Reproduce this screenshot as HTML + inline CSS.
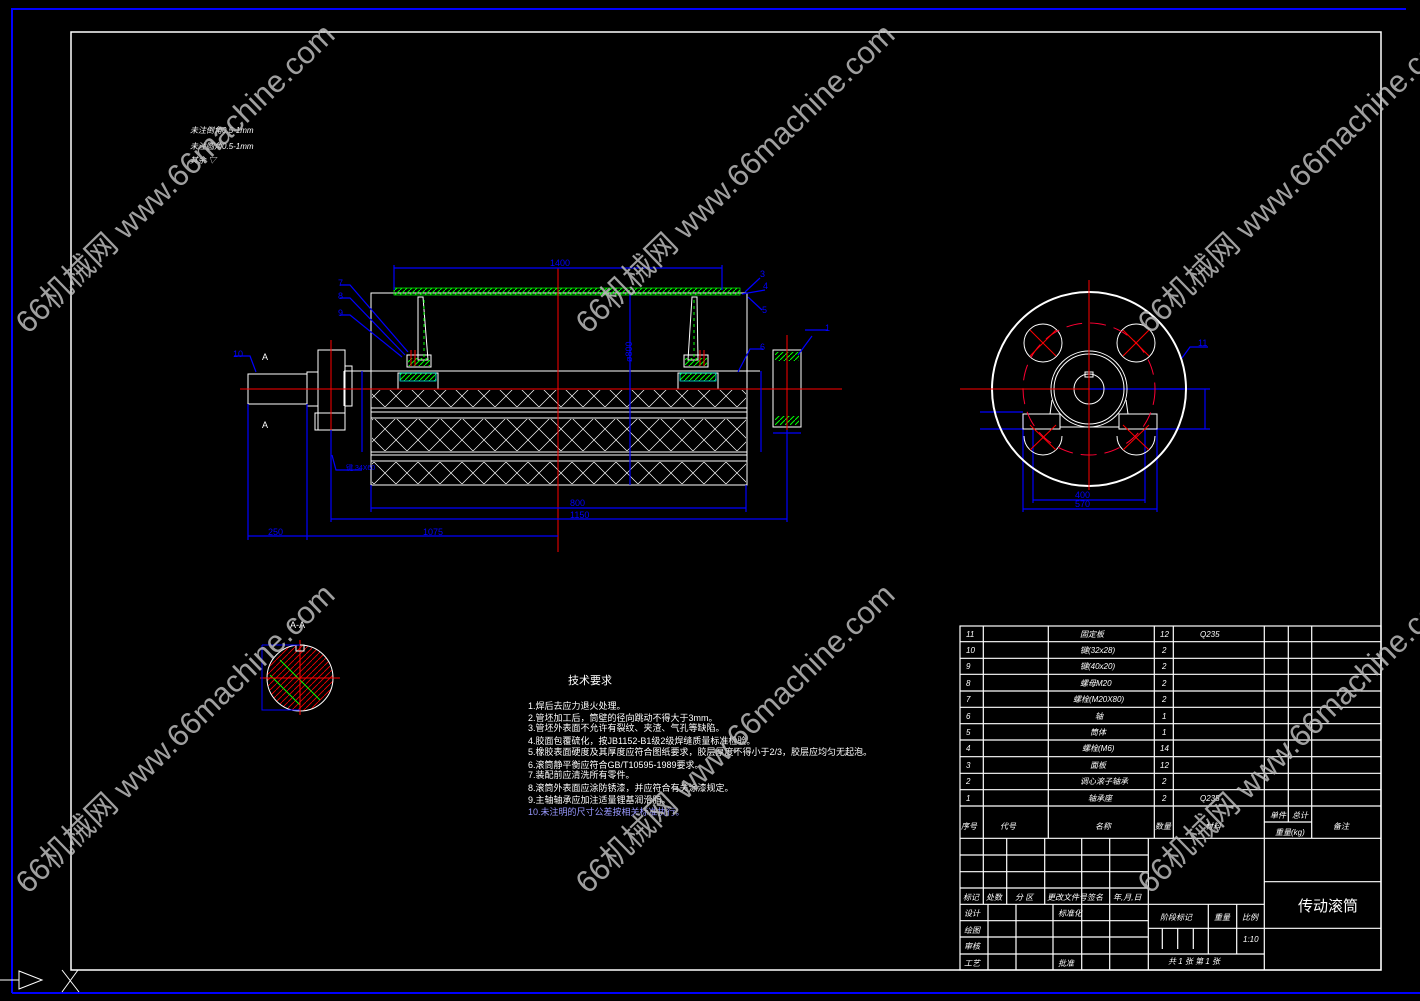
<!DOCTYPE html>
<html><head><meta charset="utf-8"><style>
html,body{margin:0;padding:0;background:#000;}
svg{display:block}
text{font-family:"Liberation Sans","Noto Sans CJK SC",sans-serif;}
</style></head><body>
<svg width="1420" height="1001" viewBox="0 0 1420 1001" xmlns="http://www.w3.org/2000/svg">
<rect width="1420" height="1001" fill="#000"/>
<!-- frames -->
<polyline points="12,993 12,9 1406,9" fill="none" stroke="#0000ff" stroke-width="2"/>
<line x1="12" y1="993" x2="1420" y2="993" stroke="#0000ff" stroke-width="2"/>
<rect x="71" y="32" width="1310" height="938" fill="none" stroke="#fff" stroke-width="1.5"/>
<polygon points="19,971 42,980 19,989" fill="none" stroke="#fff"/>
<line x1="0" y1="980" x2="19" y2="980" stroke="#fff"/>
<path d="M62 970 L79 992 M78 970 L62 992" stroke="#fff"/>

<!-- main view -->
<g fill="none" stroke="#fff" stroke-width="1">
<rect x="371" y="293" width="376" height="192"/>
<rect x="371" y="389" width="376" height="96"/>
<line x1="371" y1="408" x2="747" y2="408"/><line x1="371" y1="412" x2="747" y2="412"/><line x1="371" y1="418" x2="747" y2="418"/>
<line x1="371" y1="452" x2="747" y2="452"/><line x1="371" y1="455" x2="747" y2="455"/><line x1="371" y1="461" x2="747" y2="461"/>
<line x1="344" y1="371" x2="760" y2="371"/>
<line x1="344" y1="371" x2="344" y2="406"/>
<rect x="248" y="374" width="59" height="30"/>
<rect x="307" y="372" width="11" height="34"/>
<rect x="318" y="350" width="27" height="80"/>
<rect x="345" y="366" width="7" height="40"/>
<rect x="315" y="413" width="30" height="17"/>
<rect x="773" y="350" width="28" height="77"/>
<rect x="398" y="373" width="40" height="16"/><rect x="678" y="373" width="40" height="16"/>
<polygon points="418,297 423,297 428,360 418,360"/>
<polygon points="697,297 692,297 688,360 698,360"/>
<rect x="407" y="355" width="24" height="12"/><rect x="684" y="355" width="24" height="12"/>
</g>
<!-- cross hatch pattern -->
<defs>
<pattern id="xh" width="22" height="22" patternUnits="userSpaceOnUse">
<path d="M0 0 L22 22 M22 0 L0 22" stroke="#fff" stroke-width="0.7"/>
</pattern>
<pattern id="gh" width="5" height="5" patternUnits="userSpaceOnUse">
<path d="M0 5 L5 0" stroke="#0f0" stroke-width="1"/>
</pattern>
<pattern id="rh" width="6" height="6" patternUnits="userSpaceOnUse">
<path d="M0 6 L6 0" stroke="#f00" stroke-width="0.8"/>
</pattern>
</defs>
<rect x="372" y="390" width="374" height="17" fill="url(#xh)"/>
<rect x="372" y="419" width="374" height="32" fill="url(#xh)"/>
<rect x="372" y="462" width="374" height="22" fill="url(#xh)"/>
<rect x="394" y="288" width="346" height="7" fill="url(#gh)" stroke="#0f0" stroke-width="0.7"/>
<rect x="400" y="373" width="36" height="8" fill="url(#gh)" stroke="#0ff" stroke-width="0.7"/>
<rect x="680" y="373" width="36" height="8" fill="url(#gh)" stroke="#0ff" stroke-width="0.7"/>
<rect x="408" y="358" width="22" height="8" fill="url(#gh)"/>
<rect x="685" y="358" width="22" height="8" fill="url(#gh)"/>
<rect x="775" y="352" width="24" height="9" fill="url(#gh)"/>
<rect x="775" y="416" width="24" height="9" fill="url(#gh)"/>
<line x1="424" y1="300" x2="424" y2="360" stroke="#0f0" stroke-dasharray="3,3"/>
<line x1="694" y1="300" x2="694" y2="360" stroke="#0f0" stroke-dasharray="3,3"/>
<!-- red center lines -->
<g stroke="#f00" stroke-width="1">
<line x1="240" y1="389" x2="842" y2="389"/>
<line x1="558" y1="268" x2="558" y2="552"/>
<line x1="331" y1="340" x2="331" y2="440"/>
<line x1="787" y1="335" x2="787" y2="440"/>
<line x1="411" y1="350" x2="411" y2="366"/><line x1="415" y1="350" x2="415" y2="366"/>
<line x1="700" y1="350" x2="700" y2="366"/><line x1="704" y1="350" x2="704" y2="366"/>
</g>
<!-- blue dims -->
<g stroke="#0000ff" stroke-width="1.2" fill="none">
<line x1="394" y1="268" x2="722" y2="268"/><line x1="394" y1="265" x2="394" y2="290"/><line x1="722" y1="265" x2="722" y2="290"/>
<line x1="630" y1="293" x2="630" y2="485"/>
<line x1="371" y1="508" x2="746" y2="508"/><line x1="371" y1="485" x2="371" y2="512"/><line x1="746" y1="485" x2="746" y2="512"/>
<line x1="331" y1="519" x2="787" y2="519"/><line x1="331" y1="430" x2="331" y2="522"/><line x1="787" y1="430" x2="787" y2="522"/>
<line x1="248" y1="536" x2="558" y2="536"/><line x1="248" y1="404" x2="248" y2="540"/><line x1="307" y1="404" x2="307" y2="540"/>
<line x1="362" y1="371" x2="362" y2="452"/><line x1="761" y1="371" x2="761" y2="452"/>
<line x1="773" y1="433" x2="801" y2="433"/>
<polyline points="340,285 350,285 408,352"/>
<polyline points="340,298 350,298 405,355"/>
<polyline points="340,315 350,315 402,357"/>
<polyline points="234,356 250,356 256,372"/>
<polyline points="760,278 745,292"/><polyline points="765,290 742,294"/><polyline points="762,310 748,297"/>
<polyline points="805,330 828,330"/><polyline points="812,336 798,355"/>
<polyline points="763,349 750,349 738,372"/>
<polyline points="332,455 336,470 362,470"/>
<polyline points="1208,347 1190,347 1182,358"/>
<line x1="1160" y1="389" x2="1183" y2="389"/>
<line x1="1033" y1="500" x2="1145" y2="500"/><line x1="1023" y1="509" x2="1157" y2="509"/>
<line x1="1023" y1="414" x2="1023" y2="512"/><line x1="1157" y1="429" x2="1157" y2="512"/>
<line x1="1033" y1="430" x2="1033" y2="503"/><line x1="1145" y1="430" x2="1145" y2="503"/>
<line x1="1089" y1="389" x2="1210" y2="389"/><line x1="1148" y1="429" x2="1210" y2="429"/>
<line x1="1205" y1="389" x2="1205" y2="429"/>
<line x1="980" y1="412" x2="1023" y2="412"/><line x1="980" y1="429" x2="1023" y2="429"/>
</g>
<g fill="#0000ff" font-size="9">
<text x="550" y="266">1400</text><text x="622" y="360" transform="rotate(-90 628 356)">ø800</text>
<text x="570" y="506">800</text><text x="570" y="518">1150</text>
<text x="268" y="535">250</text><text x="423" y="535">1075</text>
<text x="233" y="357">10</text><text x="338" y="286">7</text><text x="338" y="299">8</text><text x="338" y="316">9</text>
<text x="760" y="277">3</text><text x="763" y="289">4</text><text x="762" y="313">5</text>
<text x="825" y="331">1</text><text x="760" y="350">6</text><text x="1198" y="346">11</text>
<text x="1075" y="498">400</text><text x="1075" y="507">570</text>
<text x="346" y="470" font-size="7">键 34X60</text>
</g>
<g fill="#fff" font-size="9"><text x="262" y="360">A</text><text x="262" y="428">A</text></g>
<!-- side view -->
<g fill="none" stroke="#fff">
<circle cx="1089" cy="389" r="97" stroke-width="2"/>
<circle cx="1089" cy="389" r="38"/><circle cx="1089" cy="389" r="35"/>
<circle cx="1089" cy="389" r="15"/>
<rect x="1085" y="372" width="8" height="5"/>
<circle cx="1043" cy="343" r="19"/><circle cx="1136" cy="343" r="19"/>
<path d="M1024 436 A19 19 0 0 0 1062 436"/><path d="M1117 436 A19 19 0 0 0 1155 436"/>
<rect x="1023" y="414" width="37" height="15"/><rect x="1119" y="414" width="38" height="15"/>
<line x1="1060" y1="427" x2="1119" y2="427"/>
<line x1="1052" y1="400" x2="1050" y2="414"/><line x1="1126" y1="400" x2="1128" y2="414"/>
</g>
<circle cx="1089" cy="389" r="66" fill="none" stroke="#f03" stroke-dasharray="16,8"/>
<g stroke="#f00"><line x1="1089" y1="280" x2="1089" y2="490"/><line x1="960" y1="389" x2="1089" y2="389"/>
<line x1="1030" y1="330" x2="1056" y2="356"/><line x1="1056" y1="330" x2="1030" y2="356"/>
<line x1="1123" y1="330" x2="1149" y2="356"/><line x1="1149" y1="330" x2="1123" y2="356"/>
<line x1="1030" y1="425" x2="1056" y2="450"/><line x1="1056" y1="425" x2="1030" y2="450"/>
<line x1="1123" y1="425" x2="1149" y2="450"/><line x1="1149" y1="425" x2="1123" y2="450"/></g>
<!-- section A-A -->
<circle cx="300" cy="678" r="33" fill="url(#rh)" stroke="#fff"/>
<path d="M280 660 L320 700 M270 675 L300 705" stroke="#0f0"/>
<line x1="260" y1="678" x2="340" y2="678" stroke="#f00"/><line x1="300" y1="640" x2="300" y2="715" stroke="#f00"/>
<rect x="296" y="645" width="8" height="6" fill="none" stroke="#fff"/>
<path d="M262 645 L262 710 L300 710 M262 645 L300 645" fill="none" stroke="#0000ff"/>
<text x="290" y="628" fill="#fff" font-size="9">A-A</text>
<!-- roughness notes -->
<g fill="#fff" font-size="8" font-style="italic">
<text x="190" y="133">未注倒角0.5-1mm</text><text x="190" y="149">未注圆角0.5-1mm</text><text x="190" y="163">其余 ▽</text>
</g>
<!-- tech requirements -->
<g fill="#fff" font-size="9">
<text x="568" y="684" font-size="11">技术要求</text>
<text x="528" y="709">1.焊后去应力退火处理。</text>
<text x="528" y="721">2.管坯加工后，筒壁的径向跳动不得大于3mm。</text>
<text x="528" y="731">3.管坯外表面不允许有裂纹、夹渣、气孔等缺陷。</text>
<text x="528" y="744">4.胶面包覆硫化，按JB1152-B1级2级焊缝质量标准检验。</text>
<text x="528" y="755">5.橡胶表面硬度及其厚度应符合图纸要求，胶层厚度不得小于2/3，胶层应均匀无起泡。</text>
<text x="528" y="768">6.滚筒静平衡应符合GB/T10595-1989要求。</text>
<text x="528" y="778">7.装配前应清洗所有零件。</text>
<text x="528" y="791">8.滚筒外表面应涂防锈漆，并应符合有关涂漆规定。</text>
<text x="528" y="803">9.主轴轴承应加注适量锂基润滑脂。</text>
<text x="528" y="815" fill="#99f">10.未注明的尺寸公差按相关标准执行。</text>
</g>
<!-- table -->
<g stroke="#fff" stroke-width="1.2" fill="none">
<rect x="960" y="626" width="421" height="344"/>
<path d="M960 641.7H1381M960 658.3H1381M960 674.3H1381M960 691H1381M960 707.3H1381M960 723.7H1381M960 740H1381M960 756.7H1381M960 773.3H1381M960 789.7H1381M960 806H1381M960 838.3H1381"/>
<path d="M983.3 626V838.3M1048.3 626V838.3M1154.3 626V838.3M1173.3 626V838.3M1264.3 626V970M1288.3 626V822M1311.7 626V838.3M1264.3 822H1311.7"/>
<path d="M960 855H1148.3M960 871.7H1148.3M960 888H1148.3M960 904.3H1264.3M960 920.7H1148.3M960 937H1148.3M960 954H1264.3M1148.3 838.3V970M1148.3 928.3H1264.3M1264.3 881.7H1381M1264.3 928.3H1381"/>
<path d="M983.3 838.3V904.3M1006.7 838.3V904.3M1044.7 838.3V904.3M1081.7 838.3V970M1109.7 838.3V970"/>
<path d="M988 904.3V970M1016 904.3V970M1053 904.3V970"/>
<path d="M1208.3 904.3V954M1236.7 904.3V954M1162.3 928.3V949M1177.7 928.3V949M1193.3 928.3V949"/>
</g>
<g fill="#fff" font-size="8" font-style="italic">
<text x="966" y="637">11</text><text x="966" y="653">10</text><text x="966" y="669">9</text><text x="966" y="686">8</text><text x="966" y="702">7</text><text x="966" y="719">6</text><text x="966" y="735">5</text><text x="966" y="751">4</text><text x="966" y="768">3</text><text x="966" y="784">2</text><text x="966" y="801">1</text>
<text x="1080" y="637">固定板</text><text x="1080" y="653">键(32x28)</text><text x="1080" y="669">键(40x20)</text><text x="1080" y="686">螺母M20</text><text x="1073" y="702">螺栓(M20X80)</text><text x="1095" y="719">轴</text><text x="1090" y="735">筒体</text><text x="1082" y="751">螺栓(M6)</text><text x="1090" y="768">面板</text><text x="1080" y="784">调心滚子轴承</text><text x="1088" y="801">轴承座</text>
<text x="1160" y="637">12</text><text x="1162" y="653">2</text><text x="1162" y="669">2</text><text x="1162" y="686">2</text><text x="1162" y="702">2</text><text x="1162" y="719">1</text><text x="1162" y="735">1</text><text x="1160" y="751">14</text><text x="1160" y="768">12</text><text x="1162" y="784">2</text><text x="1162" y="801">2</text>
<text x="1200" y="637">Q235</text><text x="1200" y="801">Q235</text>
<text x="961" y="829">序号</text><text x="1000" y="829">代号</text><text x="1095" y="829">名称</text><text x="1155" y="829">数量</text><text x="1205" y="829">材料</text>
<text x="1270" y="818">单件</text><text x="1292" y="818">总计</text><text x="1275" y="835">重量(kg)</text><text x="1333" y="829">备注</text>
<text x="963" y="900">标记</text><text x="986" y="900">处数</text><text x="1015" y="900">分 区</text><text x="1047" y="900">更改文件号</text><text x="1087" y="900">签名</text><text x="1113" y="900">年,月,日</text>
<text x="964" y="916">设计</text><text x="1058" y="916">标准化</text><text x="964" y="933">绘图</text><text x="964" y="949">审核</text><text x="964" y="966">工艺</text><text x="1058" y="966">批准</text>
<text x="1160" y="920">阶段标记</text><text x="1214" y="920">重量</text><text x="1242" y="920">比例</text><text x="1243" y="942">1:10</text>
<text x="1168" y="964">共 1 张   第 1 张</text>
</g>
<text x="1298" y="911" fill="#fff" font-size="15">传动滚筒</text>
<!-- watermarks -->
<g fill="#bbb" fill-opacity="0.85" font-size="31">
<text transform="translate(28,335) rotate(-44)">66机械网 www.66machine.com</text>
<text transform="translate(588,335) rotate(-44)">66机械网 www.66machine.com</text>
<text transform="translate(1150,335) rotate(-44)">66机械网 www.66machine.com</text>
<text transform="translate(28,895) rotate(-44)">66机械网 www.66machine.com</text>
<text transform="translate(588,895) rotate(-44)">66机械网 www.66machine.com</text>
<text transform="translate(1150,895) rotate(-44)">66机械网 www.66machine.com</text>
</g>
</svg>
</body></html>
